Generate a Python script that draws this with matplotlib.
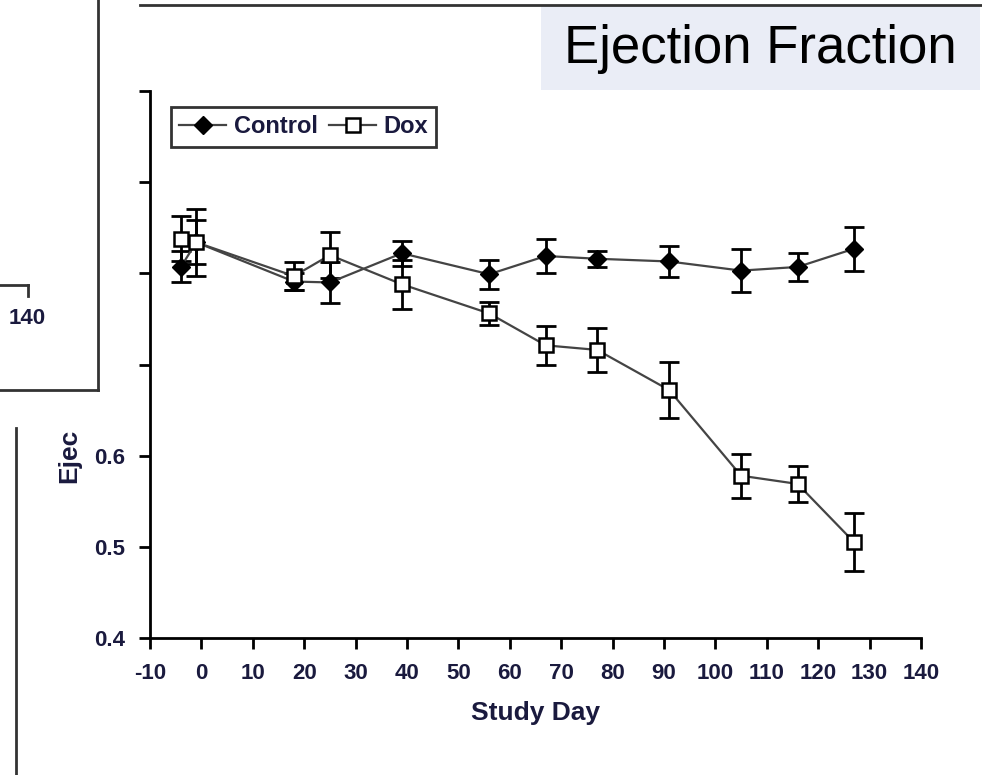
import matplotlib
matplotlib.use("Agg")
import matplotlib.pyplot as plt
from matplotlib.lines import Line2D
from matplotlib.patches import Rectangle

plt.rcParams['font.family'] = ['Liberation Sans', 'DejaVu Sans']
plt.rcParams['axes.unicode_minus'] = False

# Datos de fracción de eyección por día de estudio
dias = [-4, -1, 18, 25, 39, 56, 67, 77, 91, 105, 116, 127]
control = [0.807, 0.834, 0.791, 0.790, 0.822, 0.799, 0.819, 0.816, 0.813, 0.803, 0.807, 0.827]
control_err = [0.017, 0.024, 0.009, 0.022, 0.014, 0.016, 0.019, 0.009, 0.017, 0.024, 0.015, 0.024]
dox = [0.838, 0.834, 0.797, 0.820, 0.788, 0.756, 0.721, 0.716, 0.672, 0.578, 0.569, 0.505]
dox_err = [0.025, 0.037, 0.015, 0.025, 0.027, 0.013, 0.021, 0.024, 0.031, 0.024, 0.020, 0.032]

ticks_x = list(range(-10, 141, 10))
ticks_y = [0.4, 0.5, 0.6, 0.7, 0.8, 0.9, 1.0]
etiquetas_y = ['0.4', '0.5', '0.6', '', '', '', '']

W, H = 982, 775
azul = '#1a1a3e'

fig = plt.figure(figsize=(W / 100, H / 100), dpi=100)


def px(x, y):
    # coordenadas en pixeles (origen arriba a la izquierda) -> fraccion de figura
    return x / W, 1 - y / H


ax = fig.add_axes([150 / W, (H - 638) / H, 771 / W, 547 / H])

# barras de error
ax.errorbar(dias, control, yerr=control_err, fmt='none', ecolor='k',
            elinewidth=2, capsize=7, capthick=2, zorder=3)
ax.errorbar(dias, dox, yerr=dox_err, fmt='none', ecolor='k',
            elinewidth=2, capsize=7, capthick=2, zorder=3)

# lineas con marcadores
ax.plot(dias, control, color='#444444', lw=1.6, marker='D', markersize=9,
        markerfacecolor='k', markeredgecolor='k', label='Control', zorder=4)
ax.plot(dias, dox, color='#444444', lw=1.6, marker='s', markersize=10,
        markerfacecolor='white', markeredgecolor='k', markeredgewidth=1.8,
        label='Dox', zorder=4)

ax.set_xlim(-10, 140)
ax.set_ylim(0.4, 1.0)
ax.set_xticks(ticks_x)
ax.set_yticks(ticks_y)
ax.set_yticklabels(etiquetas_y)
ax.spines['top'].set_visible(False)
ax.spines['right'].set_visible(False)
for s in ['left', 'bottom']:
    ax.spines[s].set_linewidth(2)
ax.tick_params(axis='both', length=8, width=2, labelsize=16, labelcolor=azul, pad=10)
for lbl in ax.get_xticklabels() + ax.get_yticklabels():
    lbl.set_fontweight('bold')
ax.set_xlabel('Study Day', fontsize=19, fontweight='bold', color=azul, labelpad=12)

leg = ax.legend(loc='upper left', bbox_to_anchor=(21 / 771, 531 / 547), borderaxespad=0,
                ncol=2, frameon=True, fancybox=False, edgecolor='k', handlelength=2.0,
                handletextpad=0.3, columnspacing=0.5, borderpad=0.35,
                prop={'size': 17, 'weight': 'bold'})
leg.get_frame().set_linewidth(2)
for t in leg.get_texts():
    t.set_color(azul)

# etiqueta del eje y recortada
fig.text(*px(69, 456), 'Ejec', rotation=90, ha='center', va='center',
         fontsize=19, fontweight='bold', color=azul)

# recuadro del titulo
x0, y0 = px(541, 90)
fig.patches.append(Rectangle((x0, y0), 439 / W, 85 / H, transform=fig.transFigure,
                             facecolor='#eaedf6', edgecolor='none', zorder=0))
fig.text(*px(760, 49), 'Ejection Fraction', ha='center', va='center', fontsize=38, color='k')

# lineas de los paneles vecinos
lineas = [
    ((140, 982), (5, 5)),
    ((98, 98), (0, 390)),
    ((0, 98), (390, 390)),
    ((0, 28), (285, 285)),
    ((28, 28), (285, 296)),
    ((16, 16), (428, 775)),
]
for xs, ys in lineas:
    fx = [x / W for x in xs]
    fy = [1 - y / H for y in ys]
    fig.add_artist(Line2D(fx, fy, transform=fig.transFigure, color='#333333', lw=2))
fig.text(*px(27, 319), '140', ha='center', va='center', fontsize=16,
         fontweight='bold', color=azul)

fig.savefig('out.png', dpi=100)
